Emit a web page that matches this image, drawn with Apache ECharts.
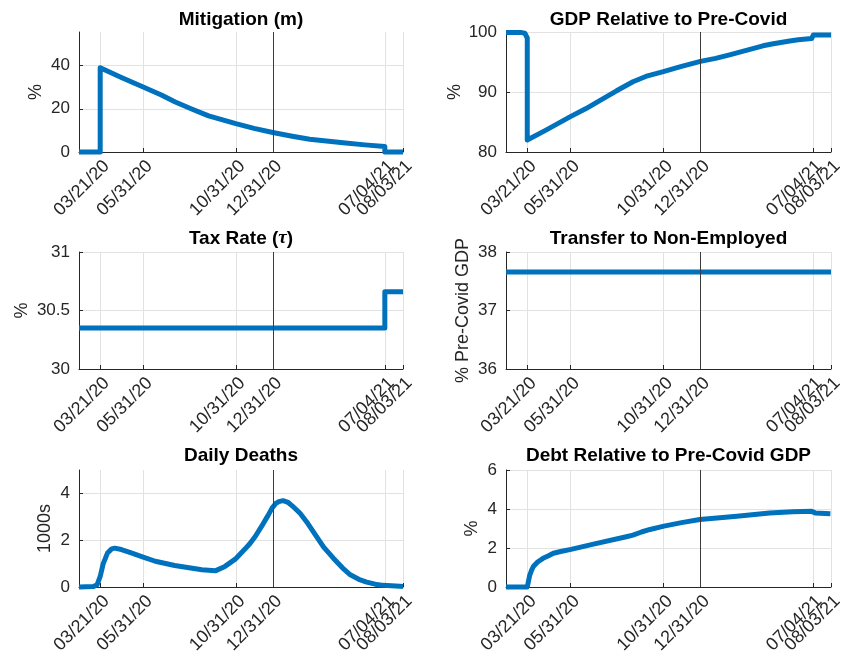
<!DOCTYPE html>
<html>
<head>
<meta charset="utf-8">
<script src="https://cdn.jsdelivr.net/npm/echarts@6/dist/echarts.min.js"></script>
<style>
  html, body { margin: 0; padding: 0; background: #fff; }
  #chart { width: 843px; height: 661px; }
</style>
</head>
<body>
<div id="chart"></div>
<script>
// ---- time axis ----
const startDate = '02/15/20';
const endDate = '08/03/21';
const markerDate = '12/31/20';
const tickDates = ['03/21/20', '05/31/20', '10/31/20', '12/31/20', '07/04/21', '08/03/21'];

// ---- Mitigation (m), % ----
const mitigationDates = ['02/15/20', '03/21/20', '03/21/20', '04/25/20', '05/31/20', '06/30/20', '07/23/20', '08/20/20', '09/16/20', '10/31/20', '11/30/20', '12/31/20', '02/01/21', '03/02/21', '04/26/21', '06/01/21', '07/04/21', '07/04/21', '08/03/21'];
const mitigationValues = [0, 0, 39, 34.5, 30.1, 26.4, 23.1, 19.8, 16.7, 13.1, 10.9, 9.0, 7.3, 5.9, 4.3, 3.3, 2.5, 0, 0];
const mitigationTicks = [0, 20, 40];

// ---- GDP relative to pre-Covid, % ----
const gdpDates = ['02/15/20', '03/12/20', '03/17/20', '03/20/20', '03/21/20', '03/21/20', '04/20/20', '05/31/20', '06/25/20', '07/19/20', '08/15/20', '09/11/20', '10/05/20', '10/31/20', '11/27/20', '12/31/20', '01/25/21', '02/17/21', '03/15/21', '04/13/21', '04/30/21', '05/27/21', '06/10/21', '07/02/21', '07/04/21', '07/05/21', '08/03/21'];
const gdpValues = [99.9, 99.9, 99.8, 99.5, 99.0, 82.0, 83.6, 85.9, 87.2, 88.6, 90.2, 91.7, 92.7, 93.4, 94.2, 95.1, 95.6, 96.2, 96.9, 97.7, 98.05, 98.5, 98.7, 98.9, 99.0, 99.5, 99.5];
const gdpTicks = [80, 90, 100];

// ---- Tax rate (tau), % ----
const taxDates = ['02/15/20', '07/04/21', '07/04/21', '08/03/21'];
const taxValues = [30.35, 30.35, 30.66, 30.66];
const taxTicks = [30, 30.5, 31];

// ---- Transfer to non-employed, % of pre-Covid GDP ----
const transferDates = ['02/15/20', '08/03/21'];
const transferValues = [37.66, 37.66];
const transferTicks = [36, 37, 38];

// ---- Daily deaths, 1000s ----
const deathDates = ['02/15/20', '03/10/20', '03/16/20', '03/21/20', '03/26/20', '04/02/20', '04/09/20', '04/14/20', '04/25/20', '05/10/20', '05/31/20', '06/20/20', '07/22/20', '08/20/20', '09/05/20', '09/27/20', '10/13/20', '10/30/20', '11/15/20', '11/23/20', '12/02/20', '12/15/20', '12/23/20', '12/30/20', '01/05/21', '01/10/21', '01/17/21', '01/25/21', '02/01/21', '02/14/21', '02/25/21', '03/13/21', '03/25/21', '04/10/21', '04/25/21', '05/08/21', '05/22/21', '06/04/21', '06/18/21', '07/01/21', '07/29/21', '08/03/21'];
const deathValues = [0, 0.02, 0.1, 0.45, 1.0, 1.45, 1.63, 1.66, 1.6, 1.47, 1.28, 1.1, 0.92, 0.8, 0.74, 0.69, 0.88, 1.19, 1.62, 1.85, 2.16, 2.7, 3.05, 3.38, 3.57, 3.65, 3.69, 3.62, 3.47, 3.15, 2.78, 2.16, 1.7, 1.23, 0.82, 0.52, 0.33, 0.21, 0.12, 0.07, 0.03, 0.02];
const deathTicks = [0, 2, 4];

// ---- Debt relative to pre-Covid GDP, % ----
const debtDates = ['02/15/20', '03/21/20', '03/23/20', '03/25/20', '03/28/20', '03/31/20', '04/07/20', '04/16/20', '04/25/20', '05/03/20', '05/15/20', '06/01/20', '07/08/20', '08/31/20', '09/11/20', '09/25/20', '10/09/20', '11/01/20', '11/30/20', '12/30/20', '02/01/21', '03/01/21', '04/24/21', '06/01/21', '07/02/21', '07/08/21', '08/02/21', '08/03/21'];
const debtValues = [0, 0, 0.3, 0.6, 0.85, 1.05, 1.28, 1.47, 1.6, 1.73, 1.82, 1.93, 2.2, 2.58, 2.66, 2.82, 2.95, 3.12, 3.3, 3.46, 3.55, 3.63, 3.8, 3.86, 3.88, 3.8, 3.76, 3.76];
const debtTicks = [0, 2, 4, 6];

// ---- helpers ----
const DAY = 86400000;
const FONT = '"Liberation Sans", Arial, Helvetica, sans-serif';
const AXIS_COLOR = '#262626';
const GRID_COLOR = '#e2e2e2';
const LINE_COLOR = '#0072BD';

function toDay(s) {
  const [m, d, y] = s.split('/').map(Number);
  return Math.round(Date.UTC(2000 + y, m - 1, d) / DAY);
}
function fmtDay(v) {
  const d = new Date(v * DAY);
  const p = n => String(n).padStart(2, '0');
  return p(d.getUTCMonth() + 1) + '/' + p(d.getUTCDate()) + '/' + p(d.getUTCFullYear() % 100);
}
function pairs(dates, values) {
  return dates.map((d, i) => [toDay(d), values[i]]);
}

// the last two ticks sit close together; the final one gets its own label-only axis
const tickDays = tickDates.map(toDay);
const mainTickDays = tickDays.slice(0, -1);
const lastTickDays = tickDays.slice(-1);

// panel geometry (px)
const colLeft = [79, 506];
const colWidth = [324, 325];
const rowTop = [32, 252, 470];
const rowHeight = [120, 117, 117];
const titleTop = [10, 229, 446];

const panels = [
  { title: 'Mitigation (m)', dates: mitigationDates, values: mitigationValues, ticks: mitigationTicks, min: 0, max: 55.5, name: '%', gap: 34, row: 0, col: 0 },
  { title: 'GDP Relative to Pre-Covid', dates: gdpDates, values: gdpValues, ticks: gdpTicks, min: 80, max: 100, name: '%', gap: 42, row: 0, col: 1 },
  { title: 'Tax Rate ({tau|τ})', dates: taxDates, values: taxValues, ticks: taxTicks, min: 30, max: 31, name: '%', gap: 48, row: 1, col: 0 },
  { title: 'Transfer to Non-Employed', dates: transferDates, values: transferValues, ticks: transferTicks, min: 36, max: 38, name: '% Pre-Covid GDP', gap: 34, row: 1, col: 1 },
  { title: 'Daily Deaths', dates: deathDates, values: deathValues, ticks: deathTicks, min: 0, max: 5, name: '1000s', gap: 25, row: 2, col: 0 },
  { title: 'Debt Relative to Pre-Covid GDP', dates: debtDates, values: debtValues, ticks: debtTicks, min: 0, max: 6, name: '%', gap: 25, row: 2, col: 1 }
];

const xLabelStyle = {
  show: true, rotate: 45, margin: 5, formatter: fmtDay,
  color: AXIS_COLOR, fontSize: 18, fontFamily: FONT,
  verticalAlign: 'top', hideOverlap: false, showMinLabel: true, showMaxLabel: true
};

const mainXAxes = panels.map((p, i) => ({
  type: 'value', gridIndex: i, position: 'bottom',
  min: toDay(startDate), max: toDay(endDate),
  axisLine: { show: true, onZero: false, lineStyle: { color: AXIS_COLOR, width: 1 } },
  axisTick: { show: true, inside: true, length: 4, customValues: tickDays, lineStyle: { color: AXIS_COLOR } },
  axisLabel: Object.assign({ customValues: mainTickDays }, xLabelStyle),
  splitLine: { show: true, lineStyle: { color: GRID_COLOR, width: 1 } }
}));
const lastLabelAxes = panels.map((p, i) => ({
  type: 'value', gridIndex: i, position: 'bottom', offset: 0,
  min: toDay(startDate), max: toDay(endDate),
  axisLine: { show: false },
  axisTick: { show: false, customValues: lastTickDays },
  axisLabel: Object.assign({ customValues: lastTickDays }, xLabelStyle),
  splitLine: { show: false }
}));

const option = {
  animation: false,
  backgroundColor: '#fff',
  textStyle: { fontFamily: FONT },
  title: panels.map(p => ({
    text: p.title,
    left: colLeft[p.col] + colWidth[p.col] / 2,
    top: titleTop[p.row],
    textAlign: 'center',
    padding: 0,
    textStyle: {
      fontSize: 19, fontWeight: 'bold', color: '#000', fontFamily: FONT,
      rich: { tau: { fontSize: 19, fontWeight: 'bold', fontStyle: 'italic', color: '#000', fontFamily: '"Liberation Serif", "Times New Roman", serif' } }
    }
  })),
  grid: panels.map(p => ({
    left: colLeft[p.col], top: rowTop[p.row],
    width: colWidth[p.col], height: rowHeight[p.row],
    containLabel: false, outerBoundsMode: 'none'
  })),
  xAxis: mainXAxes.concat(lastLabelAxes),
  yAxis: panels.map((p, i) => ({
    type: 'value', gridIndex: i, min: p.min, max: p.max,
    name: p.name, nameLocation: 'middle', nameGap: p.gap,
    nameTextStyle: { color: AXIS_COLOR, fontSize: 18, fontFamily: FONT },
    axisLine: { show: true, onZero: false, lineStyle: { color: AXIS_COLOR, width: 1 } },
    axisTick: { show: true, inside: true, length: 4, customValues: p.ticks, lineStyle: { color: AXIS_COLOR } },
    axisLabel: { show: true, customValues: p.ticks, margin: 9, color: AXIS_COLOR, fontSize: 17, fontFamily: FONT, showMinLabel: true, showMaxLabel: true },
    splitLine: { show: true, lineStyle: { color: GRID_COLOR, width: 1 } }
  })),
  series: panels.map((p, i) => ({
    type: 'line', xAxisIndex: i, yAxisIndex: i,
    data: pairs(p.dates, p.values),
    symbol: 'none', showSymbol: false, clip: false,
    lineStyle: { color: LINE_COLOR, width: 5, join: 'round', cap: 'butt' },
    z: 3,
    markLine: {
      silent: true, symbol: ['none', 'none'], animation: false,
      label: { show: false },
      lineStyle: { color: '#3c3c3c', width: 1, type: 'solid' },
      emphasis: { disabled: true },
      data: [{ xAxis: toDay(markerDate) }]
    }
  }))
};

const chart = echarts.init(document.getElementById('chart'), null, { renderer: 'canvas' });
chart.setOption(option);
</script>
</body>
</html>
